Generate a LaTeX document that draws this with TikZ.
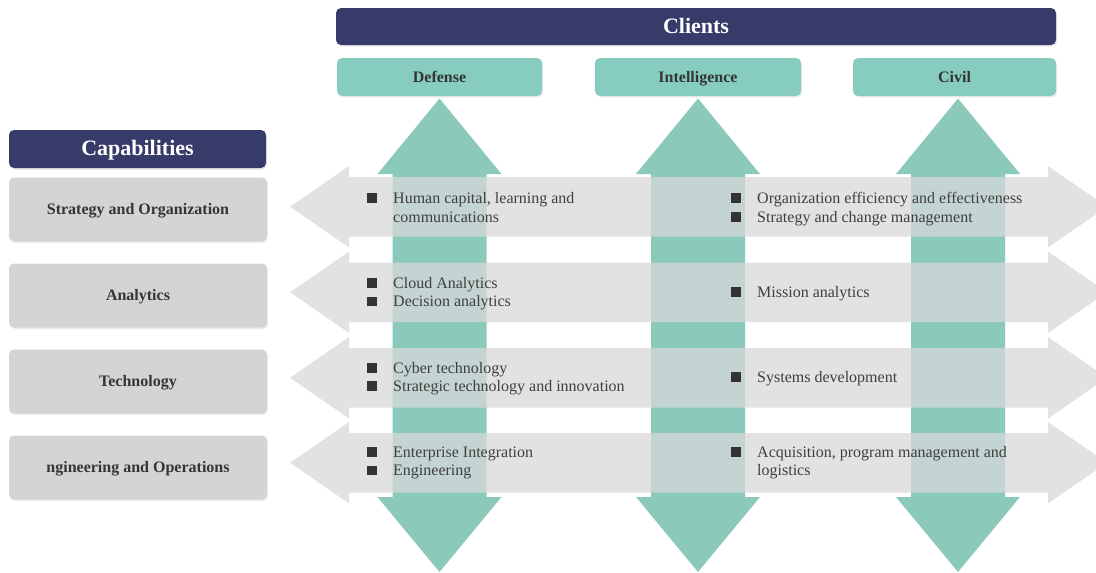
\documentclass[tikz,border=0pt]{standalone}
\usepackage{fontspec}
\setmainfont{Liberation Serif}
\usetikzlibrary{shadows}
\definecolor{navy}{HTML}{363B69}
\definecolor{tealbox}{HTML}{86CDBF}
\definecolor{tealarrow}{HTML}{8BC9BB}
\definecolor{grayarrow}{HTML}{D8D8DA}
\definecolor{graybox}{HTML}{D4D4D6}
\definecolor{labeltxt}{HTML}{353535}
\definecolor{bodytxt}{HTML}{3F3F3F}
\begin{document}
\begin{tikzpicture}[x=1pt,y=-1pt,
  hdrbox/.style={fill=navy, rounded corners=5pt, inner sep=0pt, text=white,
    font=\fontsize{22}{24}\selectfont\bfseries, text height=15pt, text depth=1.5pt,
    drop shadow={opacity=0.18, shadow xshift=1pt, shadow yshift=-1.5pt}},
  clientbox/.style={fill=tealbox, rounded corners=5pt, inner sep=0pt, text=labeltxt,
    font=\fontsize{16}{18}\selectfont\bfseries, minimum height=38pt,
    text height=11pt, text depth=1pt,
    drop shadow={opacity=0.15, shadow xshift=1pt, shadow yshift=-1.5pt}},
  capbox/.style={fill=graybox, rounded corners=5pt, inner sep=0pt, text=labeltxt,
    font=\fontsize{16}{18}\selectfont\bfseries, minimum width=258pt, minimum height=64pt,
    text height=12pt, text depth=3pt,
    drop shadow={opacity=0.15, shadow xshift=1pt, shadow yshift=-1.5pt}},
  itemtxt/.style={anchor=base west, inner sep=0pt, text=bodytxt, font=\fontsize{16}{19}\selectfont},
  bul/.style={fill=black!80, inner sep=0pt, minimum size=9.5pt, anchor=south west},
  tealshape/.style={fill=tealarrow},
  grayshape/.style={fill=grayarrow, opacity=0.75}
]
\useasboundingbox (0,0) rectangle (1096,573);
\clip (0,0) rectangle (1096,573);

% Client headers
\node[hdrbox, minimum width=720pt, minimum height=37pt] (clients) at (696,26.5) {Clients};
\node[clientbox, minimum width=205pt] (def) at (439.5,77) {Defense};
\node[clientbox, minimum width=206pt] (int) at (698,77) {Intelligence};
\node[clientbox, minimum width=203pt] (civ) at (954.5,77) {Civil};

% Vertical teal double arrows
\foreach \c in {439.5,698,958}{
  \fill[tealshape] (\c-47,174) -- (\c-62,174) -- (\c,98.5) -- (\c+62,174) -- (\c+47,174)
    -- (\c+47,497) -- (\c+62,497) -- (\c,572) -- (\c-62,497) -- (\c-47,497) -- cycle;
}

% Horizontal gray double arrows
\foreach \t in {177,262.5,348,433}{
  \pgfmathsetmacro\b{\t+59.5}
  \pgfmathsetmacro\m{\t+29.75}
  \fill[grayshape] (349,\t) -- (1048,\t) -- (1048,\t-11) -- (1107,\m) -- (1048,\b+11)
    -- (1048,\b) -- (349,\b) -- (349,\b+11) -- (290,\m) -- (349,\t-11) -- cycle;
}

% Capabilities column
\node[hdrbox, minimum width=257pt, minimum height=38pt] (cap) at (137.5,149) {Capabilities};
\node[capbox] (so) at (138,209.5) {Strategy and Organization};
\node[capbox] (an) at (138,295.5) {Analytics};
\node[capbox] (te) at (138,381.5) {Technology};
\node[capbox] (eo) at (138,467.5) {ngineering and Operations};

% Row 1
\node[bul] (b1a) at (367,203) {};
\node[itemtxt] (t1a) at (393,203) {Human capital, learning and};
\node[itemtxt] (t1b) at (393,222) {communications};
\node[bul] (b1c) at (731,203) {};
\node[itemtxt] (t1c) at (757,203) {Organization efficiency and effectiveness};
\node[bul] (b1d) at (731,222) {};
\node[itemtxt] (t1d) at (757,222) {Strategy and change management};

% Row 2
\node[bul] (b2a) at (367,288) {};
\node[itemtxt] (t2a) at (393,288) {Cloud Analytics};
\node[bul] (b2b) at (367,306.5) {};
\node[itemtxt] (t2b) at (393,306.5) {Decision analytics};
\node[bul] (b2c) at (731,297) {};
\node[itemtxt] (t2c) at (757,297) {Mission analytics};

% Row 3
\node[bul] (b3a) at (367,373) {};
\node[itemtxt] (t3a) at (393,373) {Cyber technology};
\node[bul] (b3b) at (367,391) {};
\node[itemtxt] (t3b) at (393,391) {Strategic technology and innovation};
\node[bul] (b3c) at (731,382) {};
\node[itemtxt] (t3c) at (757,382) {Systems development};

% Row 4
\node[bul] (b4a) at (367,457) {};
\node[itemtxt] (t4a) at (393,457) {Enterprise Integration};
\node[bul] (b4b) at (367,475.5) {};
\node[itemtxt] (t4b) at (393,475.5) {Engineering};
\node[bul] (b4c) at (731,457) {};
\node[itemtxt] (t4c) at (757,457) {Acquisition, program management and};
\node[itemtxt] (t4d) at (757,475.5) {logistics};
\end{tikzpicture}
\end{document}
